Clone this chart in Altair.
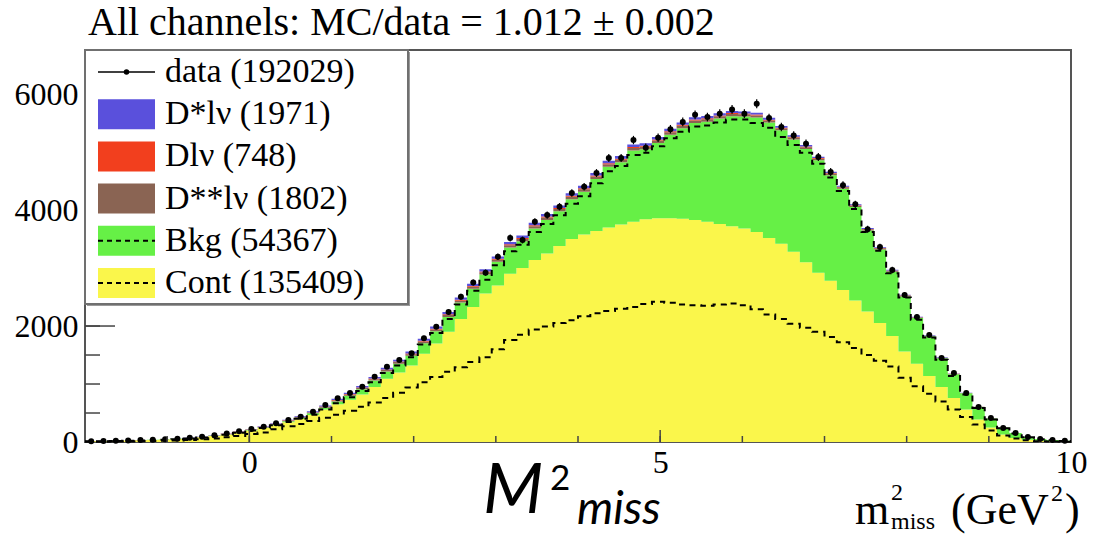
import altair as alt
import numpy as np
import pandas as pd

# ---------------- data (80 bins of 0.15 GeV^2 from -2 to 10) ----------------
BIN_LO, BIN_HI, BIN_W, NBINS = -2.0, 10.0, 0.15, 80
centers = BIN_LO + BIN_W * (np.arange(NBINS) + 0.5)

cont = [12, 15, 19, 24, 29, 35, 42, 51, 64, 80,
        103, 130, 165, 200, 240, 290, 340, 395, 465, 560,
        650, 730, 820, 950, 1090, 1200, 1320, 1520, 1700, 1900,
        2120, 2330, 2560, 2700, 2900, 3000, 3140, 3250, 3380, 3500,
        3580, 3640, 3700, 3750, 3800, 3840, 3860, 3860, 3850, 3830,
        3800, 3760, 3720, 3680, 3620, 3520, 3420, 3280, 3100, 2920,
        2780, 2620, 2440, 2250, 2050, 1830, 1560, 1350, 1140, 950,
        760, 560, 390, 250, 130, 70, 38, 22, 14, 8]

bkg = [3, 3, 3, 3, 3, 3, 4, 4, 3, 4,
       5, 5, 8, 11, 12, 12, 18, 23, 29, 29,
       49, 69, 89, 110, 126, 151, 166, 184, 209, 257,
       284, 312, 330, 407, 455, 462, 541, 579, 599, 686,
       736, 895, 1045, 1075, 1225, 1207, 1297, 1439, 1561, 1673,
       1724, 1817, 1899, 1932, 1975, 1989, 1954, 1938, 1953, 1937,
       1822, 1747, 1612, 1397, 1271, 1106, 951, 787, 682, 495,
       408, 281, 213, 156, 117, 84, 49, 30, 20, 12]

dss = [0, 0, 0, 0, 1, 1, 1, 2, 2, 3,
       3, 4, 5, 6, 7, 9, 10, 12, 14, 16,
       18, 20, 22, 24, 25, 27, 29, 30, 32, 33,
       34, 35, 36, 37, 38, 39, 40, 41, 41, 42,
       42, 43, 43, 43, 43, 43, 43, 42, 42, 41,
       41, 40, 39, 38, 37, 36, 34, 33, 31, 29,
       27, 25, 23, 21, 19, 17, 15, 12, 10, 8,
       6, 5, 4, 3, 2, 1, 1, 0, 0, 0]

dlv = [0, 0, 0, 0, 0, 0, 0, 0, 1, 1,
       1, 2, 2, 2, 3, 4, 5, 6, 6, 7,
       8, 9, 10, 10, 11, 12, 13, 13, 14, 14,
       15, 15, 16, 16, 16, 17, 17, 17, 17, 18,
       18, 18, 18, 18, 18, 17, 17, 17, 16, 16,
       16, 15, 15, 14, 14, 13, 12, 11, 10, 10,
       9, 8, 7, 6, 6, 5, 4, 3, 2, 2,
       2, 1, 1, 0, 0, 0, 0, 0, 0, 0]

dstar = [0, 0, 0, 0, 0, 1, 1, 1, 2, 2,
         3, 4, 5, 6, 8, 10, 12, 14, 16, 18,
         20, 22, 24, 26, 28, 30, 32, 33, 35, 36,
         37, 38, 39, 40, 41, 42, 42, 43, 43, 44,
         44, 44, 44, 44, 44, 43, 43, 42, 41, 40,
         39, 38, 37, 36, 34, 32, 30, 28, 26, 24,
         22, 20, 18, 16, 14, 12, 10, 8, 6, 5,
         4, 3, 2, 1, 1, 0, 0, 0, 0, 0]

data_counts = [15, 18, 22, 28, 33, 40, 48, 58, 72, 90,
               115, 145, 185, 225, 264, 322, 379, 437, 523, 638,
               753, 845, 954, 1126, 1299, 1414, 1530, 1790, 1988, 2240,
               2505, 2750, 2920, 3195, 3517, 3483, 3799, 3914, 4057, 4293,
               4402, 4638, 4897, 4897, 5207, 5075, 5247, 5394, 5520, 5643,
               5603, 5661, 5736, 5661, 5833, 5586, 5431, 5287, 5143, 4914,
               4655, 4428, 4098, 3667, 3362, 2966, 2535, 2155, 1845, 1448,
               1190, 845, 603, 414, 241, 155, 86, 52, 34, 20]

bkg_dash = [12, 14, 17, 21, 26, 32, 39, 48, 60, 76,
            97, 125, 160, 200, 240, 290, 345, 400, 470, 560,
            670, 770, 880, 1030, 1190, 1320, 1460, 1680, 1880, 2120,
            2370, 2610, 2800, 3050, 3290, 3400, 3620, 3760, 3910, 4110,
            4240, 4460, 4670, 4760, 4950, 4990, 5100, 5240, 5350, 5440,
            5460, 5510, 5560, 5560, 5500, 5420, 5260, 5120, 4990, 4800,
            4560, 4330, 4020, 3620, 3300, 2910, 2490, 2110, 1800, 1420,
            1140, 820, 585, 390, 238, 148, 82, 49, 31, 17]

cont_dash = [5, 6, 8, 10, 13, 17, 22, 28, 36, 46,
             60, 80, 105, 140, 165, 220, 270, 310, 360, 420,
             470, 540, 610, 680, 760, 850, 940, 1030, 1120, 1210,
             1290, 1380, 1460, 1600, 1760, 1850, 1940, 1990, 2050, 2100,
             2170, 2220, 2260, 2300, 2330, 2380, 2420, 2400, 2370, 2360,
             2350, 2370, 2390, 2360, 2290, 2200, 2120, 2040, 1970, 1900,
             1810, 1720, 1620, 1500, 1400, 1300, 1110, 960, 830, 700,
             560, 430, 300, 200, 110, 60, 30, 15, 8, 4]

comp_names = ["Cont", "Bkg", "D**lν", "Dlν", "D*lν"]
comp_values = [cont, bkg, dss, dlv, dstar]
comp_colors = ["#FAF64B", "#66F046", "#8A6453", "#F23F1E", "#5A50DC"]

legend_labels = ["data (192029)", "D*lν (1971)", "Dlν (748)",
                 "D**lν (1802)", "Bkg (54367)", "Cont (135409)"]
legend_colors = [None, "#5A50DC", "#F23F1E", "#8A6453", "#66F046", "#FAF64B"]

title_text = "All channels: MC/data = 1.012 ± 0.002"
x_tick_labels = [0, 5, 10]
y_tick_labels = [0, 2000, 4000, 6000]

# ---------------- tables ----------------
x_step = [BIN_LO] + list(centers) + [BIN_HI]


def step_vals(v):
    return [v[0]] + list(v) + [v[-1]]


rows = []
for i, (name, vals) in enumerate(zip(comp_names, comp_values)):
    for xv, yv in zip(x_step, step_vals(vals)):
        rows.append({"x": xv, "value": yv, "comp": name, "ord": i})
df_stack = pd.DataFrame(rows)

df_dash = pd.DataFrame(
    [{"x": xv, "value": yv, "series": "bkg"} for xv, yv in zip(x_step, step_vals(bkg_dash))]
    + [{"x": xv, "value": yv, "series": "cont"} for xv, yv in zip(x_step, step_vals(cont_dash))]
)

dc = np.array(data_counts, dtype=float)
df_data = pd.DataFrame({"x": centers, "value": dc,
                        "lo": dc - np.sqrt(dc), "hi": dc + np.sqrt(dc)})

W, H = 986, 392
SERIF = "Liberation Serif"
xs = alt.Scale(domain=[BIN_LO, BIN_HI], nice=False, zero=False)
ys = alt.Scale(domain=[0, 6760], nice=False)
xax = alt.Axis(values=x_tick_labels, format="d", title=None, ticks=False, domain=False,
               grid=False, labelFont=SERIF, labelFontSize=32, labelColor="black",
               labelPadding=5, labelFlush=False)
yax = alt.Axis(values=y_tick_labels, format="d", title=None, ticks=False, domain=False,
               grid=False, labelFont=SERIF, labelFontSize=32, labelColor="black",
               labelPadding=7)

area = alt.Chart(df_stack).mark_area(interpolate="step").encode(
    x=alt.X("x:Q", scale=xs, axis=xax),
    y=alt.Y("value:Q", stack="zero", scale=ys, axis=yax),
    color=alt.Color("comp:N", scale=alt.Scale(domain=comp_names, range=comp_colors), legend=None),
    order=alt.Order("ord:Q"),
)

dash = alt.Chart(df_dash).mark_line(interpolate="step", color="black", strokeWidth=2,
                                    strokeDash=[6, 5]).encode(
    x=alt.X("x:Q", scale=xs, axis=xax),
    y=alt.Y("value:Q", scale=ys, axis=yax),
    detail="series:N",
)

err = alt.Chart(df_data).mark_rule(color="black", strokeWidth=1.2).encode(
    x=alt.X("x:Q", scale=xs, axis=xax),
    y=alt.Y("lo:Q", scale=ys, axis=yax),
    y2="hi:Q",
)
dots = alt.Chart(df_data).mark_circle(color="black", opacity=1, size=36).encode(
    x=alt.X("x:Q", scale=xs, axis=xax),
    y=alt.Y("value:Q", scale=ys, axis=yax),
)

# inward ticks
xt_minor = pd.DataFrame({"v": list(range(-1, 10))})
xt_major = pd.DataFrame({"v": [0, 5]})
yt_minor = pd.DataFrame({"v": list(range(500, 6760, 500))})
yt_major = pd.DataFrame({"v": [2000, 4000, 6000]})
tick_col = "#444"
xtm = alt.Chart(xt_minor).mark_rule(color=tick_col, strokeWidth=1.5).encode(
    x=alt.X("v:Q", scale=xs, axis=xax), y=alt.value(H), y2=alt.value(H - 6))
xtM = alt.Chart(xt_major).mark_rule(color=tick_col, strokeWidth=1.5).encode(
    x=alt.X("v:Q", scale=xs, axis=xax), y=alt.value(H), y2=alt.value(H - 12))
ytm = alt.Chart(yt_minor).mark_rule(color=tick_col, strokeWidth=1.5).encode(
    y=alt.Y("v:Q", scale=ys, axis=yax), x=alt.value(0), x2=alt.value(15))
ytM = alt.Chart(yt_major).mark_rule(color=tick_col, strokeWidth=1.5).encode(
    y=alt.Y("v:Q", scale=ys, axis=yax), x=alt.value(0), x2=alt.value(30))

one = pd.DataFrame({"a": [0]})
layers = [area, dash, err, dots, xtm, xtM, ytm, ytM]

# legend box
LW, LH = 323, 254
layers.append(alt.Chart(one).mark_rect(fill="#9a9a9a").encode(
    x=alt.value(2), x2=alt.value(LW + 2), y=alt.value(2), y2=alt.value(LH + 2)))
layers.append(alt.Chart(one).mark_rect(fill="white", stroke="#707070", strokeWidth=2).encode(
    x=alt.value(0), x2=alt.value(LW), y=alt.value(0), y2=alt.value(LH)))

for i, (lab, col) in enumerate(zip(legend_labels, legend_colors)):
    yc = 22 + 42.2 * i
    if col is None:
        layers.append(alt.Chart(one).mark_rule(color="black", strokeWidth=1.5).encode(
            x=alt.value(13), x2=alt.value(70), y=alt.value(yc)))
        layers.append(alt.Chart(one).mark_circle(color="black", opacity=1, size=30).encode(
            x=alt.value(41.5), y=alt.value(yc)))
    else:
        layers.append(alt.Chart(one).mark_rect(fill=col).encode(
            x=alt.value(13), x2=alt.value(70), y=alt.value(yc - 15), y2=alt.value(yc + 15)))
        if lab.startswith("Bkg") or lab.startswith("Cont"):
            layers.append(alt.Chart(one).mark_rule(color="black", strokeWidth=2,
                                                   strokeDash=[5, 4]).encode(
                x=alt.value(13), x2=alt.value(70), y=alt.value(yc)))
    layers.append(alt.Chart(pd.DataFrame({"t": [lab]})).mark_text(
        align="left", baseline="middle", font=SERIF, fontSize=34, color="black").encode(
        x=alt.value(80), y=alt.value(yc), text="t:N"))


def txt(s, x, y, size, font=SERIF, style="normal", align="left"):
    return alt.Chart(pd.DataFrame({"t": [s]})).mark_text(
        align=align, baseline="alphabetic", font=font, fontSize=size, fontStyle=style,
        color="black").encode(x=alt.value(x), y=alt.value(y), text="t:N")


# title
layers.append(txt(title_text, 3, -15, 40))
# axis title  m^2_miss (GeV^2)
layers.append(txt("m", 770, 474, 44))
layers.append(txt("2", 806, 450, 24))
layers.append(txt("miss", 806, 479, 24))
layers.append(txt("(GeV", 866, 474, 44))
layers.append(txt("2", 966, 451, 24))
layers.append(txt(")", 980, 474, 44))
# big M^2_miss label
layers.append(txt("M", 398, 463, 70, font="Lato", style="italic"))
layers.append(txt("2", 465, 440, 35, font="Lato"))
layers.append(txt("miss", 492, 474, 46, font="Lato", style="italic"))

chart = alt.layer(*layers).properties(
    width=W, height=H,
    padding={"left": 85, "top": 50, "right": 26, "bottom": 94},
    autosize=alt.AutoSizeParams(type="none"),
    background="white",
).configure_view(stroke="#555", strokeWidth=2)

chart.save("out.html", embed_options={"renderer": "svg", "actions": False})
